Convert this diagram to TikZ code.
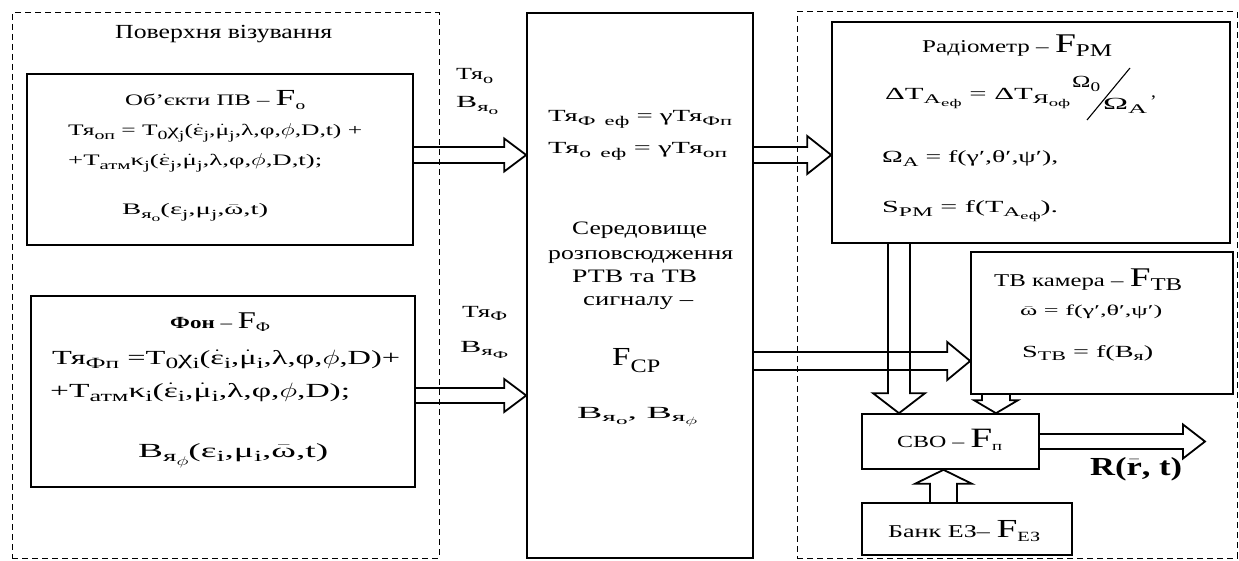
\documentclass[tikz,border=0pt]{standalone}
\usepackage{fontspec}
\usepackage{graphicx}
\setmainfont{Liberation Serif}[FakeStretch=1.15]
\usetikzlibrary{calc}
\newcommand\lo[1]{\raisebox{-0.5ex}{\scalebox{0.78}{#1}}}
\newcommand\dt[1]{$\dot{\hbox{#1}}$}
\newcommand\br[1]{$\bar{\hbox{#1}}$}
\newcommand\fs[1]{\fontsize{#1}{#1}\selectfont}
\newcommand\fw[2]{\resizebox{#1pt}{\height}{#2}}
\newcommand\barR[5]{\draw[barrow] ($(#1)+(0,#3)$) -- ($(#2)+(-#5,#3)$) -- ($(#2)+(-#5,#4)$) -- (#2) -- ($(#2)+(-#5,-#4)$) -- ($(#2)+(-#5,-#3)$) -- ($(#1)+(0,-#3)$);}
\newcommand\barD[5]{\draw[barrow] ($(#1)+(#3,0)$) -- ($(#2)+(#3,-#5)$) -- ($(#2)+(#4,-#5)$) -- (#2) -- ($(#2)+(-#4,-#5)$) -- ($(#2)+(-#3,-#5)$) -- ($(#1)+(-#3,0)$);}
\newcommand\barU[5]{\draw[barrow] ($(#1)+(#3,0)$) -- ($(#2)+(#3,#5)$) -- ($(#2)+(#4,#5)$) -- (#2) -- ($(#2)+(-#4,#5)$) -- ($(#2)+(-#3,#5)$) -- ($(#1)+(-#3,0)$);}
\tikzset{
 box/.style={draw, line width=1.6pt, inner sep=0pt},
 dbox/.style={draw, line width=1pt, dash pattern=on 6pt off 4pt, inner sep=0pt},
 barrow/.style={draw, line width=1.8pt, line join=miter},
 txtl/.style={inner sep=0pt, anchor=base west},
}
\begin{document}
\begin{tikzpicture}[x=1pt,y=-1pt]
\useasboundingbox (0,0) rectangle (1239,561);
% groups
\node[dbox, minimum width=427pt, minimum height=545pt] (grpL) at (225.5,285.5) {};
\node[dbox, minimum width=440pt, minimum height=546pt] (grpR) at (1017,285) {};
% boxes
\node[box, minimum width=386pt, minimum height=171pt] (obj) at (220,159.5) {};
\node[box, minimum width=384pt, minimum height=191pt] (fon) at (223,391.5) {};
\node[box, minimum width=226pt, minimum height=545pt] (mid) at (640,285.5) {};
\node[box, minimum width=398pt, minimum height=221pt] (rad) at (1031,132.5) {};
\node[box, minimum width=262pt, minimum height=142pt] (tv) at (1102,323) {};
\node[box, minimum width=177pt, minimum height=55pt] (cbo) at (950.5,441.5) {};
\node[box, minimum width=210pt, minimum height=52pt] (bank) at (967,529) {};
% helper coordinates
\coordinate (yA) at (0,155);
\coordinate (yB) at (0,395.5);
\coordinate (yC) at (0,361);
\coordinate (xD) at (899,0);
\coordinate (xE) at (996,0);
\coordinate (xF) at (943.5,0);
\coordinate (a1s) at (obj.east |- yA);
\coordinate (a1e) at (mid.west |- yA);
\coordinate (a2s) at (fon.east |- yB);
\coordinate (a2e) at (mid.west |- yB);
\coordinate (a3s) at (mid.east |- yA);
\coordinate (a3e) at (rad.west |- yA);
\coordinate (a4s) at (mid.east |- yC);
\coordinate (a4e) at (tv.west |- yC);
\coordinate (a5s) at (rad.south -| xD);
\coordinate (a5e) at (cbo.north -| xD);
\coordinate (a6s) at (tv.south -| xE);
\coordinate (a6e) at (cbo.north -| xE);
\coordinate (a7s) at (bank.north -| xF);
\coordinate (a7e) at (cbo.south -| xF);
\coordinate (out) at (1205,441.5);
% block arrows
\barR{a1s}{a1e}{8}{16.5}{22}
\barR{a2s}{a2e}{7.5}{16.5}{22}
\barR{a3s}{a3e}{8}{19}{24}
\barR{a4s}{a4e}{9}{19}{23}
\barD{a5s}{a5e}{11}{26}{20}
\barD{a6s}{a6e}{14}{22}{13}
\barU{a7s}{a7e}{13.5}{28.5}{14}
\barR{cbo.east}{out}{7.5}{17}{22}
% left texts
\node[txtl, font=\fs{20}] (lblSurf) at (115,39) {\fw{217}{Поверхня візування}};
\node[txtl, font=\fs{16}] (lblObj) at (125,106) {\fw{180}{Об’єкти ПВ – {\fs{23}F}\lo{о}}};
\node[txtl, font=\fs{16}] (eqO1) at (68,136) {\fw{294}{Тя\lo{оп} = T\lo{0}χ\lo{j}(\dt{ε}\lo{j},\dt{μ}\lo{j},λ,φ,$\phi$,D,t) +}};
\node[txtl, font=\fs{16}] (eqO2) at (68,166) {\fw{254}{+T\lo{атм}κ\lo{j}(\dt{ε}\lo{j},\dt{μ}\lo{j},λ,φ,$\phi$,D,t);}};
\node[txtl, font=\fs{16}] (eqO3) at (122,215) {\fw{146}{В\lo{я\lo{о}}(ε\lo{j},μ\lo{j},\br{ω},t)}};
\node[txtl, font=\fs{17}] (lblFon) at (170,328) {\fw{100}{\textbf{Фон} – {\fs{24}F}\lo{Ф}}};
\node[txtl, font=\fs{20}] (eqF1) at (52,364) {\fw{348}{Тя\lo{Фп} =T\lo{0}χ\lo{i}(\dt{ε}\lo{i},\dt{μ}\lo{i},λ,φ,$\phi$,D)+}};
\node[txtl, font=\fs{20}] (eqF2) at (50,397) {\fw{300}{+T\lo{атм}κ\lo{i}(\dt{ε}\lo{i},\dt{μ}\lo{i},λ,φ,$\phi$,D);}};
\node[txtl, font=\fs{20}] (eqF3) at (138,457) {\fw{190}{В\lo{я\lo{$\phi$}}(ε\lo{i},μ\lo{i},\br{ω},t)}};
% arrow labels
\node[txtl, font=\fs{17}] (lblTo) at (456,80) {\fw{37}{Тя\lo{о}}};
\node[txtl, font=\fs{17}] (lblBo) at (456,108) {\fw{42}{В\lo{я\lo{о}}}};
\node[txtl, font=\fs{17}] (lblTf) at (462,317) {\fw{45}{Тя\lo{Ф}}};
\node[txtl, font=\fs{17}] (lblBf) at (460,352) {\fw{48}{В\lo{я\lo{Ф}}}};
% middle texts
\node[txtl, font=\fs{17}] (eqM1) at (548,122) {\fw{184}{Тя\lo{Ф}\hspace{6pt}\lo{еф} = γТя\lo{Фп}}};
\node[txtl, font=\fs{17}] (eqM2) at (548,154) {\fw{179}{Тя\lo{о}\hspace{6pt}\lo{еф} = γТя\lo{оп}}};
\node[txtl, font=\fs{19}] (m1) at (572,235) {\fw{135}{Середовище}};
\node[txtl, font=\fs{19}] (m2) at (548,259) {\fw{185}{розповсюдження}};
\node[txtl, font=\fs{19}] (m3) at (572,283) {\fw{125}{РТВ та ТВ}};
\node[txtl, font=\fs{19}] (m4) at (583,305) {\fw{110}{сигналу –}};
\node[txtl, font=\fs{26}] (m5) at (612,365) {\fw{48}{F\raisebox{-0.6ex}{\fs{19}СР}}};
\node[txtl, font=\fs{17}] (m6) at (577,418) {\fw{120}{В\lo{я\lo{о}}, В\lo{я\lo{$\phi$}}}};
% radiometer
\node[txtl, font=\fs{18}] (r0) at (922,53) {\fw{190}{Радіометр – {\fs{27}F}\raisebox{-0.4ex}{РМ}}};
\node[txtl, font=\fs{17}] (r1) at (885,100) {\fw{185}{ΔT\lo{A\lo{еф}} = ΔT\lo{Я\lo{оф}}}};
\node[txtl, font=\fs{17}] (r1a) at (1072,88) {\fw{28}{Ω\lo{0}}};
\draw[line width=1.1pt] (1087,120) -- (1130,68);
\node[txtl, font=\fs{17}] (r1b) at (1103,110) {\fw{44}{Ω\lo{A}}};
\node[txtl, font=\fs{17}] (r1c) at (1151,98) {,};
\node[txtl, font=\fs{17}] (r2) at (882,163) {\fw{176}{Ω\lo{A} = f(γ′,θ′,ψ′),}};
\node[txtl, font=\fs{17}] (r3) at (882,213) {\fw{176}{S\lo{PM} = f(T\lo{A\lo{еф}}).}};
% tv
\node[txtl, font=\fs{18}] (tv0) at (994,287) {\fw{188}{ТВ камера – {\fs{27}F}\raisebox{-0.4ex}{ТВ}}};
\node[txtl, font=\fs{15}] (tv1) at (1020,316) {\fw{142}{\br{ω} = f(γ′,θ′,ψ′)}};
\node[txtl, font=\fs{17}] (tv2) at (1022,357) {\fw{131}{S\lo{ТВ} = f(В\lo{я})}};
% cbo, bank, output
\node[txtl, font=\fs{17}] (c0) at (897,447) {\fw{105}{СВО – {\fs{28}F}\lo{п}}};
\node[txtl, font=\fs{18}] (b0) at (888,537) {\fw{152}{Банк ЕЗ– {\fs{26}F}\lo{ЕЗ}}};
\node[txtl, font=\fs{26}\bfseries] (rout) at (1090,475) {\fw{92}{R(\br{\bfseries r}, t)}};
\end{tikzpicture}
\end{document}
